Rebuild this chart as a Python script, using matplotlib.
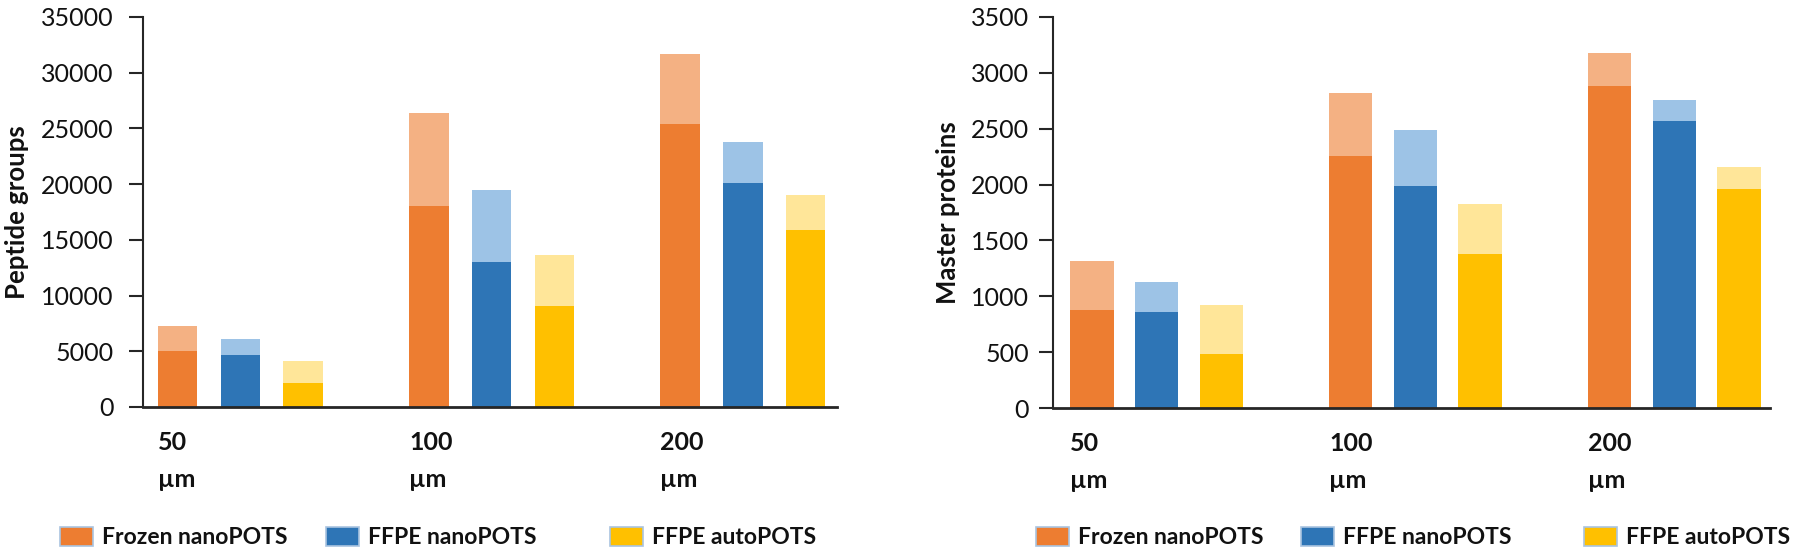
import matplotlib.pyplot as plt
from matplotlib.patches import Patch
import matplotlib.transforms as mtransforms

plt.rcParams['font.family'] = ['Lato', 'DejaVu Sans']

sizes = ['50', '100', '200']
methods = ['Frozen nanoPOTS', 'FFPE nanoPOTS', 'FFPE autoPOTS']

# peptide groups: lower (dark) part and total (light top)
pep_dark = [[5000, 4700, 2150],
            [18070, 12980, 9100],
            [25400, 20080, 15850]]
pep_total = [[7250, 6140, 4170],
             [26400, 19500, 13680],
             [31700, 23750, 19030]]

# master proteins
prot_dark = [[878, 859, 480],
             [2259, 1985, 1381],
             [2879, 2571, 1963]]
prot_total = [[1314, 1130, 923],
              [2822, 2485, 1829],
              [3175, 2758, 2154]]

dark_colors = ['#ED7D31', '#2E75B6', '#FFC000']
light_colors = ['#F4B183', '#9DC3E6', '#FFE699']

fig = plt.figure(figsize=(18, 5.56), dpi=100)
W, H = 1800, 556


def make_panel(rect, dark, total, ymax, ystep, ylabel, width, xlim, ylab_x, tpad, leg_px):
    ax = fig.add_axes(rect)
    for g in range(len(sizes)):
        for m in range(len(methods)):
            x = g * 4 + m
            ax.bar(x, total[g][m], width=width, color=light_colors[m], linewidth=0)
            ax.bar(x, dark[g][m], width=width, color=dark_colors[m], linewidth=0)
    ax.set_xlim(*xlim)
    ax.set_ylim(0, ymax)
    ax.set_yticks(range(0, ymax + 1, ystep))
    ax.set_xticks([])
    for s in ['top', 'right']:
        ax.spines[s].set_visible(False)
    ax.spines['left'].set_color('#262626')
    ax.spines['left'].set_linewidth(1.5)
    ax.spines['bottom'].set_color('#262626')
    ax.spines['bottom'].set_linewidth(2)
    ax.tick_params(axis='y', direction='out', length=10, width=1.5, color='#262626',
                   labelsize=18, labelcolor='#111111', pad=tpad)
    ax.set_ylabel(ylabel, fontsize=18.5, fontweight='bold', color='#111111')
    ax.yaxis.set_label_coords(ylab_x, 0.5)

    trans = mtransforms.blended_transform_factory(ax.transData, ax.transAxes)
    for g, s in enumerate(sizes):
        x0 = g * 4 - width / 2
        ax.text(x0, -0.09, s, transform=trans, fontsize=18, fontweight='bold',
                ha='left', va='center', color='#111111')
        ax.text(x0, -0.185, 'µm', transform=trans, fontsize=18, fontweight='bold',
                ha='left', va='center', color='#111111')

    for m in range(len(methods)):
        handle = Patch(facecolor=dark_colors[m], edgecolor='#A9C4E0', linewidth=1.2)
        leg = fig.legend([handle], [methods[m]], loc='center left',
                         bbox_to_anchor=(leg_px[m] / W, (H - 537.5) / H),
                         frameon=False, borderpad=0, borderaxespad=0,
                         handlelength=1.45, handleheight=0.9, handletextpad=0.4,
                         prop={'size': 16.5, 'weight': 'bold'})
        for t in leg.get_texts():
            t.set_color('#111111')
    return ax


make_panel([143 / W, (H - 407) / H, (837 - 143) / W, 390 / H],
           pep_dark, pep_total, 35000, 5000, 'Peptide groups', 0.63,
           (-0.55, 10.5), -0.164, 11, [60, 326, 610])
make_panel([1053 / W, (H - 408) / H, (1770 - 1053) / W, 391 / H],
           prot_dark, prot_total, 3500, 500, 'Master proteins', 0.67,
           (-0.6, 10.48), -0.130, 7.5, [1036, 1301, 1584])

fig.savefig('out.png', dpi=100)
